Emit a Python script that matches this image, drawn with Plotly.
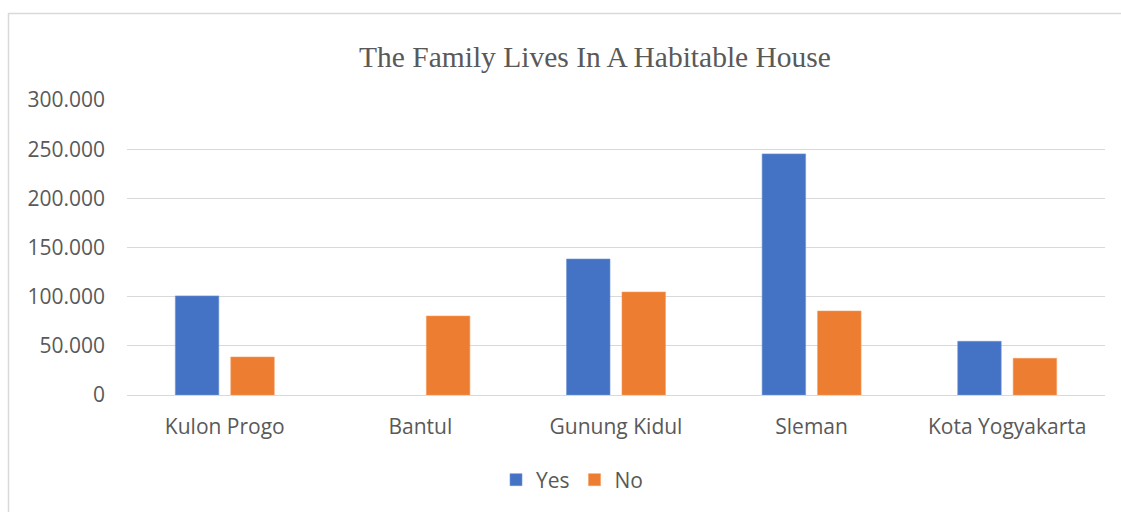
import plotly.graph_objects as go

# Households by district
districts = ["Kulon Progo", "Bantul", "Gunung Kidul", "Sleman", "Kota Yogyakarta"]
yes_values = [100800, None, 138300, 245200, 54600]
no_values = [38600, 80300, 104700, 85400, 37300]
y_ticks = [0, 50000, 100000, 150000, 200000, 250000, 300000]

W, H = 1121, 512
ML, MR, MT, MB = 127, 16, 100, 117
plot_w = W - ML - MR
plot_h = H - MT - MB

def px_x(p):
    return (p - ML) / plot_w

def px_y(p):
    return (H - MB - p) / plot_h

text_color = "#595959"
grid_color = "#d9d9d9"
label_font = dict(family="Open Sans", size=21, color=text_color)

fig = go.Figure()
fig.add_trace(go.Bar(name="Yes", x=districts, y=yes_values,
                     marker=dict(color="#4472C4", line=dict(color="#6f93d4", width=0.6))))
fig.add_trace(go.Bar(name="No", x=districts, y=no_values,
                     marker=dict(color="#ED7D31", line=dict(color="#f29a5c", width=0.6))))

fig.update_layout(
    width=W, height=H,
    margin=dict(l=ML, r=MR, t=MT, b=MB),
    paper_bgcolor="white", plot_bgcolor="white",
    separators=",.",
    barmode="group", bargap=0.433, bargroupgap=0.216,
    title=dict(text="The Family Lives In A Habitable House",
               font=dict(family="Liberation Serif", size=29.5, color=text_color),
               x=px_x(595), xref="paper", xanchor="center",
               y=1 - 57 / H, yref="container", yanchor="middle"),
    font=label_font,
    legend=dict(orientation="h", x=px_x(572), xanchor="center",
                y=px_y(480), yanchor="middle",
                font=label_font, itemwidth=30, tracegroupgap=0),
    showlegend=True,
)

fig.update_yaxes(range=[0, 300000], tickvals=y_ticks, tickformat=",d",
                 showgrid=True, gridcolor=grid_color, gridwidth=1.3,
                 zeroline=True, zerolinecolor=grid_color, zerolinewidth=1.3,
                 showline=False, ticks="", ticklabelstandoff=21,
                 tickfont=label_font)
fig.update_xaxes(showgrid=False, showline=False, ticks="", ticklabelstandoff=17,
                 tickfont=label_font)

# Chart frame
fig.add_shape(type="rect", xref="paper", yref="paper",
              x0=px_x(8.5), x1=px_x(W + 60), y0=px_y(H + 60), y1=px_y(13.5),
              line=dict(color=grid_color, width=1.5), fillcolor="rgba(0,0,0,0)",
              layer="below")

fig.write_html("out.html")
